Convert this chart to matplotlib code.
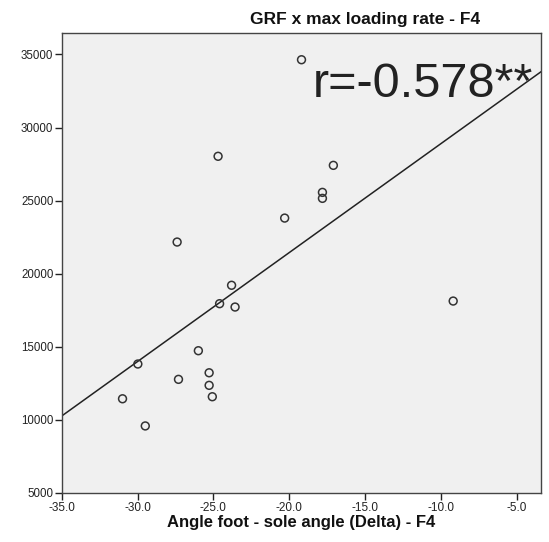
import matplotlib
matplotlib.use("Agg")
import matplotlib.pyplot as plt
import numpy as np

# Data
angle_delta = [-19.19, -24.69, -17.09, -17.81, -17.81, -20.30, -27.39, -23.80,
               -24.59, -23.57, -9.19, -25.99, -29.98, -27.30, -25.28, -25.28,
               -30.99, -25.07, -29.49]
grf_loading = [34640, 28030, 27410, 25560, 25150, 23800, 22160, 19200,
               17940, 17710, 18120, 14720, 13810, 12760, 13210, 12350,
               11430, 11570, 9570]

# Fit line
fit_slope = 745.8
fit_intercept = 36353.0

x_ticks = [-35.0, -30.0, -25.0, -20.0, -15.0, -10.0, -5.0]
y_ticks = [5000, 10000, 15000, 20000, 25000, 30000, 35000]
x_limits = (-35.0, -3.4)
y_limits = (5000, 36450)

title_text = "GRF x max loading rate - F4"
xlabel_text = "Angle foot - sole angle (Delta) - F4"
r_text = "r=-0.578**"

plt.rcParams['font.family'] = ['Liberation Sans', 'DejaVu Sans']

W, H = 549, 542
fig = plt.figure(figsize=(W / 100, H / 100), dpi=100)
fig.patch.set_facecolor('white')

left, right, top, bottom = 61.7, 541.0, 33.3, 492.7
ax = fig.add_axes([left / W, 1 - bottom / H, (right - left) / W, (bottom - top) / H])
ax.set_facecolor('#F0F0F0')

ax.scatter(angle_delta, grf_loading, s=32, facecolors='none',
           edgecolors='#333333', linewidths=1.1, zorder=3)

xl = np.array(x_limits)
ax.plot(xl, fit_intercept + fit_slope * xl, color='#222222', lw=1.1, zorder=2)

ax.set_xlim(*x_limits)
ax.set_ylim(*y_limits)
ax.set_xticks(x_ticks)
ax.set_xticklabels([f"{v:.1f}" for v in x_ticks])
ax.set_yticks(y_ticks)
ax.set_yticklabels([str(v) for v in y_ticks])

for s in ax.spines.values():
    s.set_color('#444444')
    s.set_linewidth(1.0)

ax.tick_params(axis='both', direction='out', length=5, width=1.0,
               color='#222222', labelcolor='#222222')
ax.tick_params(axis='x', labelsize=8.5, pad=1.5)
ax.tick_params(axis='y', labelsize=8.3, pad=1)

ax.text(0.983, 0.862, r_text, transform=ax.transAxes, ha='right', va='baseline',
        fontsize=35, color='#222222')

fig.text(365 / W, 1 - 24 / H, title_text, ha='center', va='baseline',
         fontsize=12.5, fontweight='bold', color='#111111')
fig.text(301 / W, 1 - 527 / H, xlabel_text, ha='center', va='baseline',
         fontsize=12, fontweight='bold', color='#111111')

fig.savefig('out.png', dpi=100)
